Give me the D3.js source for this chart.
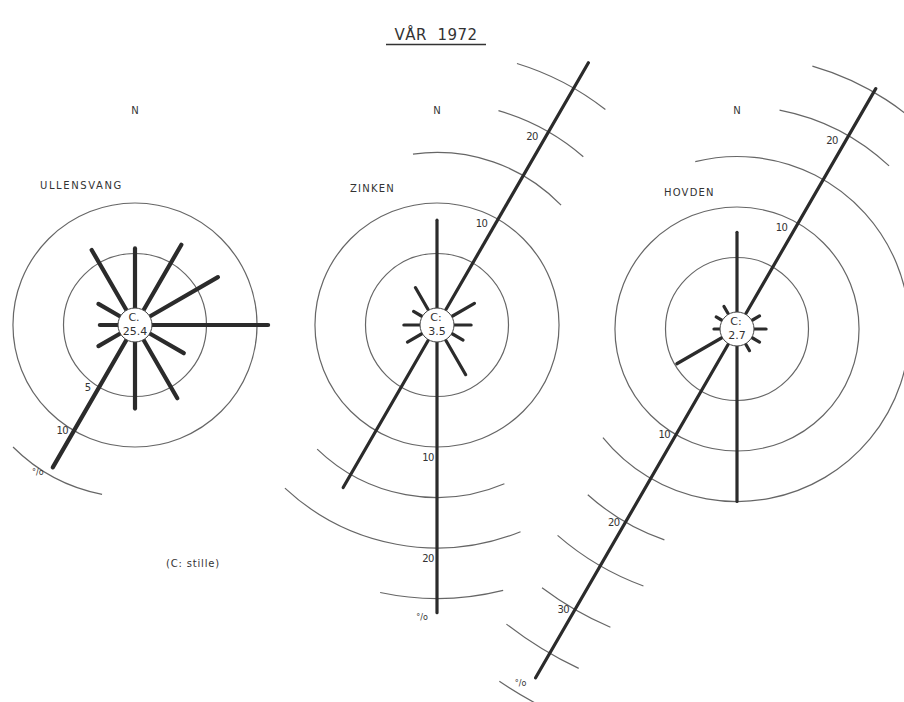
<!DOCTYPE html>
<html>
<head>
<meta charset="utf-8">
<script src="https://cdn.jsdelivr.net/npm/d3@7"></script>
<style>
  body { margin: 0; background: #fff; }
  text { font-family: "DejaVu Sans", sans-serif; fill: #333; }
</style>
</head>
<body>
<script>
// Chart size
const width = 904,
  height = 702;

// ---- data ----
const title = "VÅR  1972";
const stations = ["ULLENSVANG", "ZINKEN", "HOVDEN"];
const directions = [0, 30, 60, 90, 120, 150, 180, 210, 240, 270, 300, 330]; // degrees from N
// frequency (%) per direction
const ullensvang = [5.5, 7.1, 7.4, 11.1, 3.5, 6.3, 6.2, 14.2, 2.1, 1.4, 2.1, 6.5];
const zinken = [8.3, 27.9, 2.2, 1.3, 0.9, 3.6, 26.4, 16.5, 1.3, 1.2, 0.6, 2.2];
const hovden = [7.5, 25.4, 0.5, 0.8, 0.5, 0.4, 15.0, 37.8, 4.8, 0.2, 0.3, 0.5];
const calm = ["25.4", "3.5", "2.7"];
const calmPrefix = ["C.", "C:", "C:"];
// reference circles / arcs: [station, percent, from bearing, to bearing]
const gridArcs = [
  [0, 5, 0, 360], [0, 10, 0, 360], [0, 15, 191, 225],
  [1, 5, 0, 360], [1, 10, 0, 360],
  [1, 15, -8, 46], [1, 15, 157, 224],
  [1, 20, 16, 41], [1, 20, 158, 223],
  [1, 25, 17, 38], [1, 25, 166, 192],
  [2, 5, 0, 360], [2, 10, 0, 360],
  [2, 15, -14, 231],
  [2, 20, 11, 43], [2, 20, 199, 222],
  [2, 25, 16, 50], [2, 25, 200, 221],
  [2, 30, 203, 217], [2, 35, 205, 218], [2, 40, 206, 214]
];
// scale labels: [station, percent, bearing of spoke it sits on]
const scaleLabels = [
  [0, 5, 210], [0, 10, 210],
  [1, 10, 30], [1, 20, 30], [1, 10, 180], [1, 20, 180],
  [2, 10, 30], [2, 20, 30], [2, 10, 210], [2, 20, 210], [2, 30, 210]
];
const unitSpoke = [210, 180, 210]; // spoke carrying the "°/o" mark
const note = "(C: stille)";

// ---- layout ----
const centers = [[135, 325], [437, 325], [737, 329]];
const nameAnchor = [[40, 189], [350, 192], [664, 196]];
const spokeWidth = [4.2, 3.2, 3.2];
const calmR = 17;

// percent -> radius (scale starts at the calm circle)
const rScale = d3.scaleLinear()
  .domain([0, 10])
  .range([21, 122]);

const rad = d => d * Math.PI / 180;

const svg = d3.select("body")
  .append("svg")
  .attr("width", width)
  .attr("height", height);

// title with underline
svg.append("text")
  .attr("x", 436)
  .attr("y", 40)
  .attr("text-anchor", "middle")
  .style("font-size", "15px")
  .style("letter-spacing", "0.5px")
  .style("white-space", "pre")
  .text(title);
svg.append("line")
  .attr("x1", 386).attr("x2", 486)
  .attr("y1", 44.5).attr("y2", 44.5)
  .attr("stroke", "#333")
  .attr("stroke-width", 1.6);

const series = [ullensvang, zinken, hovden];

stations.forEach((name, i) => {
  const g = svg.append("g")
    .attr("transform", `translate(${centers[i][0]},${centers[i][1]})`);

  // grid circles and arcs
  gridArcs.filter(a => a[0] === i).forEach(a => {
    const p = d3.path();
    const r = rScale(a[1]);
    p.arc(0, 0, r, rad(a[2] - 90), rad(a[3] - 90), false);
    g.append("path")
      .attr("d", p.toString())
      .attr("fill", "none")
      .attr("stroke", "#666")
      .attr("stroke-width", 1.2);
  });

  // spokes
  g.selectAll("line.spoke")
    .data(directions.map((d, k) => ({ dir: d, v: series[i][k] })))
    .enter()
    .append("line")
    .attr("class", "spoke")
    .attr("x1", d => d3.pointRadial(rad(d.dir), calmR)[0])
    .attr("y1", d => d3.pointRadial(rad(d.dir), calmR)[1])
    .attr("x2", d => d3.pointRadial(rad(d.dir), rScale(d.v))[0])
    .attr("y2", d => d3.pointRadial(rad(d.dir), rScale(d.v))[1])
    .attr("stroke", "#2b2b2b")
    .attr("stroke-width", spokeWidth[i])
    .attr("stroke-linecap", "round");

  // calm circle
  g.append("circle")
    .attr("r", calmR)
    .attr("fill", "#fff")
    .attr("stroke", "#444")
    .attr("stroke-width", 1);
  g.append("text")
    .attr("x", -1).attr("y", -4)
    .attr("text-anchor", "middle")
    .style("font-size", "11px")
    .text(calmPrefix[i]);
  g.append("text")
    .attr("x", 0).attr("y", 10)
    .attr("text-anchor", "middle")
    .style("font-size", "11px")
    .text(calm[i]);

  // north mark
  g.append("text")
    .attr("x", 0)
    .attr("y", 114 - centers[i][1])
    .attr("text-anchor", "middle")
    .style("font-size", "10px")
    .text("N");

  // station name
  svg.append("text")
    .attr("x", nameAnchor[i][0])
    .attr("y", nameAnchor[i][1])
    .style("font-size", "10px")
    .style("letter-spacing", i === 0 ? "1.6px" : "1.2px")
    .text(name);

  // scale numbers beside spokes: [along, side] offsets per spoke direction
  const off = { 30: [-12, 12], 180: [10, -9], 210: [6, -10] };
  scaleLabels.filter(s => s[0] === i).forEach(s => {
    const b = rad(s[2]);
    const base = d3.pointRadial(b, rScale(s[1]) + off[s[2]][0]);
    const side = d3.pointRadial(b - Math.PI / 2, off[s[2]][1]);
    g.append("text")
      .attr("x", base[0] + side[0])
      .attr("y", base[1] + side[1])
      .attr("dy", "0.35em")
      .attr("text-anchor", "middle")
      .style("font-size", "10px")
      .style("letter-spacing", "-0.5px")
      .text(s[1]);
  });

  // percent mark at end of the long spoke
  const k = directions.indexOf(unitSpoke[i]);
  const end = d3.pointRadial(rad(unitSpoke[i]), rScale(series[i][k]));
  g.append("text")
    .attr("x", end[0] - 15)
    .attr("y", end[1] + 5)
    .attr("dy", "0.35em")
    .attr("text-anchor", "middle")
    .style("font-size", "8px")
    .text("°/o");
});

svg.append("text")
  .attr("x", 193)
  .attr("y", 567)
  .attr("text-anchor", "middle")
  .style("font-size", "10px")
  .style("letter-spacing", "0.8px")
  .style("white-space", "pre")
  .text(note);
</script>
</body>
</html>
